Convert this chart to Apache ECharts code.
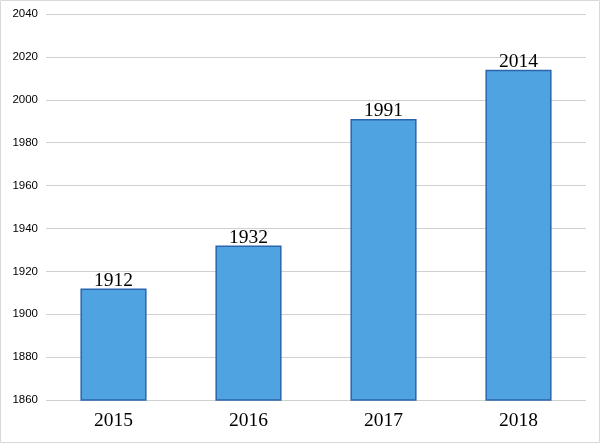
<!DOCTYPE html>
<html>
<head>
<meta charset="utf-8">
<script src="https://cdn.jsdelivr.net/npm/echarts@6/dist/echarts.min.js"></script>
<style>
html,body{margin:0;padding:0;background:#fff;}
#chart{width:600px;height:443px;}
</style>
</head>
<body>
<div id="chart"></div>
<script>
// chart values
var years = ['2015', '2016', '2017', '2018'];
var totals = [1912, 1932, 1991, 2014];
var yMin = 1860, yMax = 2040, yStep = 20;

var chart = echarts.init(document.getElementById('chart'));
chart.setOption({
    animation: false,
    backgroundColor: '#fff',
    graphic: [{
        type: 'rect',
        shape: {x: 0.5, y: 0.5, width: 599, height: 442},
        style: {fill: 'none', stroke: '#d9d9d9', lineWidth: 1},
        silent: true
    }],
    grid: {left: 46, right: 14, top: 14, bottom: 43},
    xAxis: {
        type: 'category',
        data: years,
        axisLine: {show: false},
        axisTick: {show: false},
        axisLabel: {
            fontFamily: 'Liberation Serif',
            fontSize: 19.5,
            color: '#000',
            margin: 11
        }
    },
    yAxis: {
        type: 'value',
        min: yMin,
        max: yMax,
        interval: yStep,
        axisLine: {show: false},
        axisTick: {show: false},
        axisLabel: {
            fontFamily: 'Liberation Sans',
            fontSize: 11.5,
            color: '#000',
            margin: 8,
            formatter: function (v) { return String(v); }
        },
        splitLine: {lineStyle: {color: '#d0d0d0', width: 1}}
    },
    series: [{
        type: 'bar',
        data: totals,
        barWidth: '49%',
        itemStyle: {
            color: '#4fa3e0',
            borderColor: '#2a64ad',
            borderWidth: 1.5
        },
        label: {
            show: true,
            position: 'top',
            distance: -2,
            fontFamily: 'Liberation Serif',
            fontSize: 19.5,
            color: '#000'
        }
    }]
});
</script>
</body>
</html>
